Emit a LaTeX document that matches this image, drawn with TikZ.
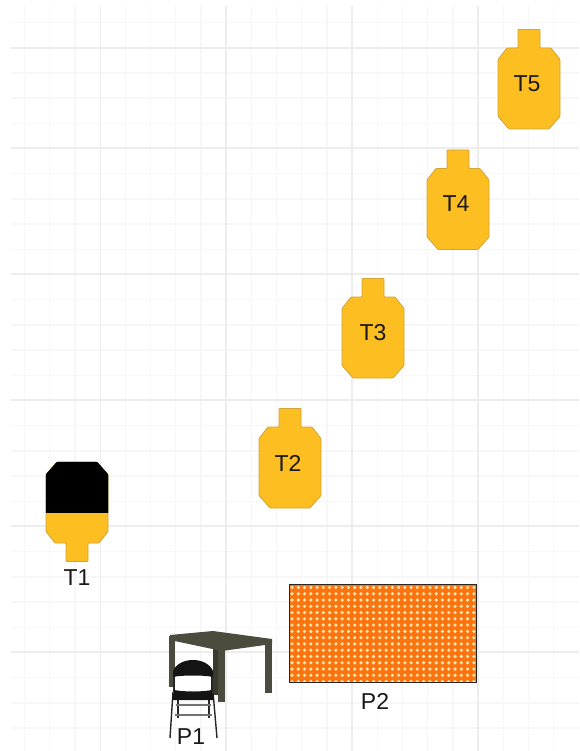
\documentclass[tikz,border=0pt]{standalone}
\usepackage{fontspec}
\setmainfont{Liberation Sans}
\usepackage{tikz}
\definecolor{targetyellow}{HTML}{FDBE22}
\definecolor{targetedge}{HTML}{D2A436}
\definecolor{tablegrey}{HTML}{4C4C3E}
\definecolor{bermorange}{HTML}{FB7410}
\definecolor{dotcream}{HTML}{FFE3A8}
\tikzset{
    minorgrid/.style={draw=black!3, line width=1.3pt},
    majorgrid/.style={draw=black!7, line width=1.3pt},
    targetbody/.style={fill=targetyellow, draw=targetedge, line width=0.8pt, rounded corners=0.8pt},
    label/.style={font=\fontsize{23}{25}\selectfont, text=black!90, inner sep=0pt},
    chairline/.style={draw=black!85, line width=1.4pt},
    chairbar/.style={draw=black!55, line width=1.6pt},
    target/.pic={
        \path[targetbody] (-11,-59) -- (11,-59) -- (11,-40.5) -- (22,-40.5) -- (31,-29) -- (31,28)
            -- (20,40.5) -- (-20,40.5) -- (-31,28) -- (-31,-29) -- (-22,-40.5) -- (-11,-40.5) -- cycle;
    }
}

\begin{document}
\begin{tikzpicture}[x=1pt, y=-1pt]
    \useasboundingbox (0,0) rectangle (579,751);
    \fill[white] (0,0) rectangle (579,751);

    % Grid
    \foreach \i in {0,...,21} {
        \draw[minorgrid] (24.6+25.2*\i,6) -- (24.6+25.2*\i,751);
    }
    \foreach \i in {0,...,28} {
        \draw[minorgrid] (11,22.5+25.2*\i) -- (579,22.5+25.2*\i);
    }
    \foreach \gx in {100.5,226,352,478} {
        \draw[majorgrid] (\gx,6) -- (\gx,751);
    }
    \foreach \gy in {48,148,274,400,526,652} {
        \draw[majorgrid] (11,\gy) -- (579,\gy);
    }

    % Targets
    \pic at (529,88.5) {target};
    \pic at (458,209) {target};
    \pic at (373,337.5) {target};
    \pic at (290,467.5) {target};
    \node[label] (t5) at (527,84) {T5};
    \node[label] (t4) at (456,204) {T4};
    \node[label] (t3) at (373,333) {T3};
    \node[label] (t2) at (288,463) {T2};

    % Hard cover on T1
    \pic[yscale=-1] at (77,502.5) {target};
    \begin{scope}
        \clip (30,450) rectangle (125,512);
        \pic[yscale=-1, targetbody/.style={fill=black, draw=black, rounded corners=0.8pt}] at (77,502.5) {target};
    \end{scope}
    \node[label] (t1) at (77,578) {T1};

    % Table
    \fill[tablegrey] (169,636) -- (175,636) -- (175,687) -- (169,687) -- cycle;
    \fill[tablegrey] (265,643) -- (272,643) -- (272,693) -- (265,693) -- cycle;
    \fill[tablegrey!75!black] (213,648) -- (219,648) -- (219,695) -- (213,695) -- cycle;
    \fill[tablegrey] (218,650) -- (225,650) -- (225,702) -- (218,702) -- cycle;
    \fill[tablegrey] (170,635) -- (213,631) -- (272,639) -- (272,644) -- (222,651) -- (170,640) -- cycle;

    % Chair
    \fill[white] (175,674) rectangle (212,692);
    \draw[chairline] (174,672) -- (174,692);
    \draw[chairline] (212,672) -- (212,692);
    \draw[chairline] (173,692) -- (170,738);
    \draw[chairline] (213,692) -- (217,738);
    \draw[chairline] (178,698) -- (178,718);
    \draw[chairline] (209,698) -- (209,718);
    \draw[chairbar] (176,705) -- (211,705);
    \draw[chairbar] (175,715) -- (212,715);
    \fill[black!92] (173,677) -- (173,671) .. controls (176,664) and (184,660) .. (193,660)
        .. controls (202,660) and (210,664) .. (213,671) -- (213,677)
        .. controls (205,675) and (181,675) .. (173,677) -- cycle;
    \fill[black!92] (174,690) .. controls (185,692) and (201,692) .. (212,690) -- (214,700) -- (172,700) -- cycle;
    \node[label] (p1) at (191,737) {P1};

    % Berm
    \fill[bermorange] (289,584) rectangle (476,682);
    \foreach \i in {0,...,29} {
        \foreach \j in {0,...,15} {
            \fill[dotcream] (292+6.27*\i,587.5+6.27*\j) circle (1.8);
        }
    }
    \draw[black!85, line width=1pt] (289,584) rectangle (476,682);
    \node[label] (p2) at (375,701) {P2};
\end{tikzpicture}
\end{document}
